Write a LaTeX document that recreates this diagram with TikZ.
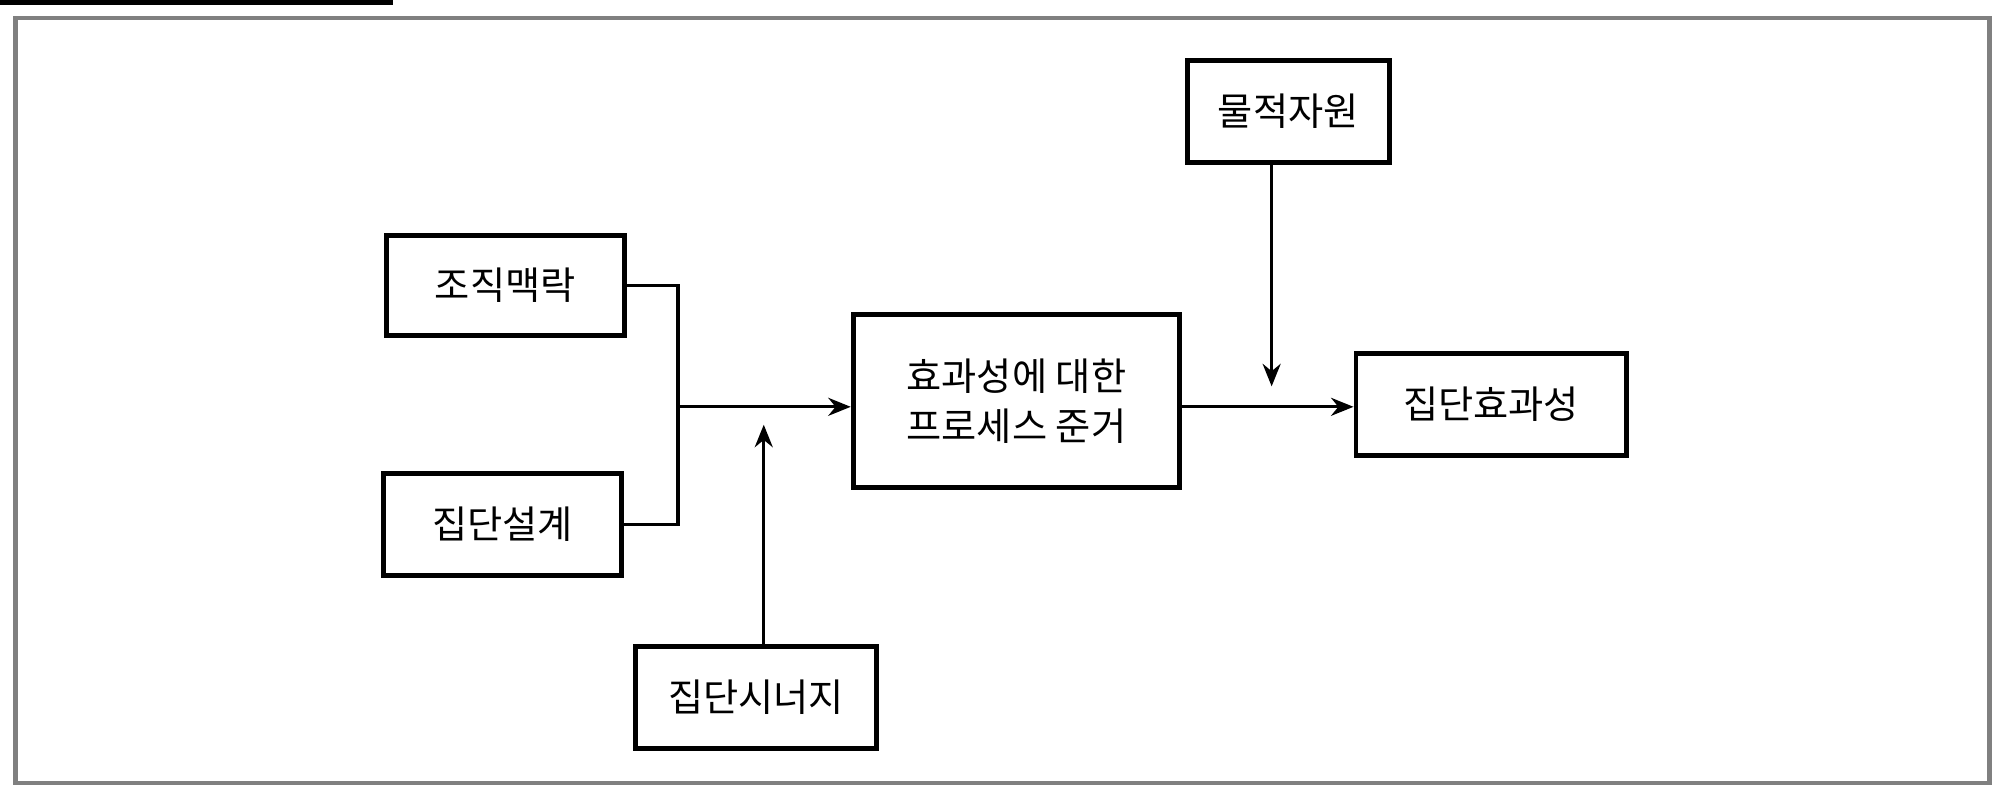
\documentclass[tikz,border=0pt]{standalone}
\usepackage{fontspec}
\newfontfamily\kr{Noto Sans CJK KR}
\usetikzlibrary{arrows.meta}
\begin{document}
\begin{tikzpicture}[x=0.01cm,y=-0.01cm,
  box/.style={draw,line width=1.1pt,inner sep=0pt,font=\kr\fontsize{8.5pt}{11pt}\selectfont,align=center},
  ln/.style={line width=0.7pt},
  arr/.style={ln,-{Stealth[length=5pt,width=4pt]}}]
\useasboundingbox (0,0) rectangle (1568,634);
\draw[gray,line width=1pt] (12,14) rectangle (1555,612);
\node[box,minimum width=158\pgflinewidth] at (0,0) {};
\node[box,minimum width=1.58cm,minimum height=0.80cm] (m) at (1007,87) {물적자원};
\node[box,minimum width=1.86cm,minimum height=0.78cm] (o) at (395,223) {조직맥락};
\node[box,minimum width=2.55cm,minimum height=1.35cm] (p) at (794.5,313.5) {효과성에 대한\\프로세스 준거};
\node[box,minimum width=2.11cm,minimum height=0.80cm] (e) at (1165.5,316) {집단효과성};
\node[box,minimum width=1.86cm,minimum height=0.80cm] (d) at (393,410) {집단설계};
\node[box,minimum width=1.88cm,minimum height=0.80cm] (s) at (591,545) {집단시너지};
\coordinate (j) at (530,318);
\draw[ln] (o.east) -- (530,223) -- (530,410) -- (d.east);
\draw[arr] (j) -- (j -| p.west);
\draw[arr] (s.north -| 597,0) -- (597,332);
\draw[arr] (p.east |- 0,318) -- (e.west |- 0,318);
\draw[arr] (m.south -| 994,0) -- (994,302);
\end{tikzpicture}
\end{document}
